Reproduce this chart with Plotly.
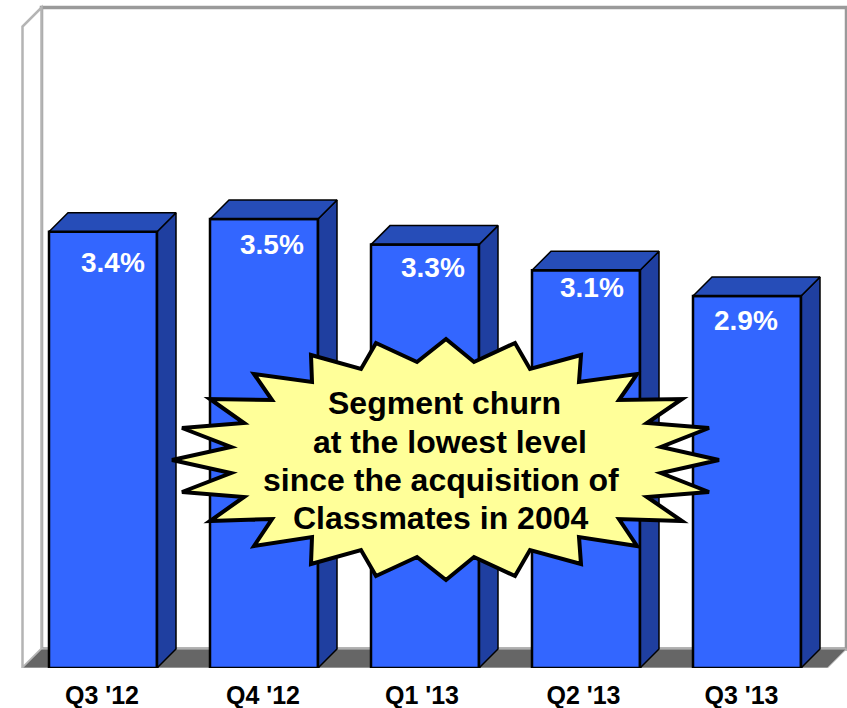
import plotly.graph_objects as go

categories = ["Q3 '12", "Q4 '12", "Q1 '13", "Q2 '13", "Q3 '13"]
churn = [3.4, 3.5, 3.3, 3.1, 2.9]
value_labels = ["3.4%", "3.5%", "3.3%", "3.1%", "2.9%"]
callout_lines = ["Segment churn", "at the lowest level", "since the acquisition of", "Classmates in 2004"]

# label placement offsets from each bar's top centre (pixels)
label_dx = [10, 8, 8, 6, -1]
label_dy = [-31, -26, -23, -17, -25]
# horizontal drift of the category labels relative to the bars (pixels)
tick_nudge = [-1, -1, -3, -2.5, -5.5]

# callout outline in page pixels
star_x = [446, 474, 515, 530, 581, 579, 637, 619, 682, 647, 709, 661, 719, 661, 709, 647, 682, 619, 637, 579, 581, 530, 515, 474,
          446, 417, 376, 361, 311, 312, 254, 272, 210, 244, 182, 231, 172, 231, 182, 244, 210, 272, 254, 312, 311, 361, 376, 417]
star_y = [339, 362, 343, 369, 355, 382, 374, 400, 399, 423, 428, 447, 460, 473, 492, 497, 521, 519, 546, 537, 564, 550, 576, 557,
          580, 557, 576, 550, 564, 537, 546, 519, 521, 497, 492, 473, 460, 447, 428, 423, 399, 400, 374, 382, 355, 369, 343, 362]
line_x = [445, 449.5, 441, 441]
line_y = [403, 442, 480, 518]

W, H = 847, 708
M_BOTTOM = 40
AXIS_MAX = 5.0
X_LO, X_HI = -0.5, 4.5
PX_PER_CAT = 161.0
PX_PER_UNIT = 128.3
BAR_W = 108 / PX_PER_CAT
DX = 19 / PX_PER_CAT
DY = 19 / PX_PER_UNIT
x_range = [(0 - 103) / PX_PER_CAT, (W - 103) / PX_PER_CAT]
y_range = [0, (H - M_BOTTOM) / PX_PER_UNIT]

FRONT = "#3366FF"
TOP = "#264DB8"
SIDE = "#1F3FA0"
STAR = "#FFFF99"
FLOOR = "#666666"
WALL_LINE = "#9A9A9A"


def poly(xs, ys, fill, line, width):
    path = "M" + " L".join(f"{x:.4f},{y:.4f}" for x, y in zip(xs, ys)) + " Z"
    return dict(type="path", path=path, xref="x", yref="y", fillcolor=fill,
                line=dict(color=line, width=width), layer="below")


shapes = [
    # back wall
    poly([X_LO + DX, X_HI + DX, X_HI + DX, X_LO + DX], [DY, DY, AXIS_MAX + DY, AXIS_MAX + DY], "white", WALL_LINE, 3.5),
    # left wall
    poly([X_LO, X_LO + DX, X_LO + DX, X_LO], [0, DY, AXIS_MAX + DY, AXIS_MAX], "white", "#B4B4B4", 2.5),
    # floor
    poly([X_LO, X_HI, X_HI + DX, X_LO + DX], [0, 0, DY, DY], FLOOR, "#C4C4C4", 1),
]

fig = go.Figure()
fig.add_bar(x=list(range(5)), y=churn, width=BAR_W, marker=dict(color=FRONT, line=dict(color="black", width=2.5)),
            hoverinfo="skip", showlegend=False)

for i, v in enumerate(churn):
    l, r = i - BAR_W / 2, i + BAR_W / 2
    fig.add_scatter(x=[r, r + DX, r + DX, r, r], y=[0, DY, v + DY, v, 0], mode="lines", fill="toself",
                    fillcolor=SIDE, line=dict(color="black", width=1.5), hoverinfo="skip", showlegend=False)
    fig.add_scatter(x=[l, l + DX, r + DX, r, l], y=[v, v + DY, v + DY, v, v], mode="lines", fill="toself",
                    fillcolor=TOP, line=dict(color="black", width=1.5), hoverinfo="skip", showlegend=False)
    # redraw the front edges above the side faces
    fig.add_scatter(x=[l, r, r], y=[v, v, 0], mode="lines", line=dict(color="black", width=2.5),
                    hoverinfo="skip", showlegend=False)

annotations = []
for i, (txt, dx, dy) in enumerate(zip(value_labels, label_dx, label_dy)):
    annotations.append(dict(x=i, y=churn[i], text=txt, showarrow=False, xanchor="center", yanchor="middle",
                            xshift=dx, yshift=dy,
                            font=dict(family="Liberation Sans", size=28, color="white", weight="bold")))
for txt, px, py in zip(callout_lines, line_x, line_y):
    annotations.append(dict(xref="paper", yref="paper", x=px / W, y=(H - M_BOTTOM - py) / (H - M_BOTTOM),
                            text=txt, showarrow=False, xanchor="center", yanchor="middle",
                            font=dict(family="Liberation Sans", size=32, color="black", weight="bold")))

star_path = "M" + " L".join(
    f"{px / W:.5f},{(H - M_BOTTOM - py) / (H - M_BOTTOM):.5f}" for px, py in zip(star_x, star_y)) + " Z"
shapes.append(dict(type="path", path=star_path, xref="paper", yref="paper", fillcolor=STAR,
                   line=dict(color="black", width=4), layer="above"))

fig.update_layout(
    width=W, height=H, margin=dict(l=0, r=0, t=0, b=M_BOTTOM, autoexpand=False),
    paper_bgcolor="white", plot_bgcolor="white", showlegend=False,
    shapes=shapes, annotations=annotations,
    xaxis=dict(range=x_range, tickmode="array",
               tickvals=[i + n / PX_PER_CAT for i, n in enumerate(tick_nudge)], ticktext=categories,
               showgrid=False, zeroline=False, showline=False, ticks="outside", ticklen=5,
               tickcolor="rgba(0,0,0,0)", fixedrange=True,
               tickfont=dict(family="Liberation Sans", size=25, color="black", weight="bold")),
    yaxis=dict(range=y_range, visible=False, fixedrange=True),
)

fig.write_html("out.html", config={"displayModeBar": False},
               post_script="document.body.style.margin='0';")
